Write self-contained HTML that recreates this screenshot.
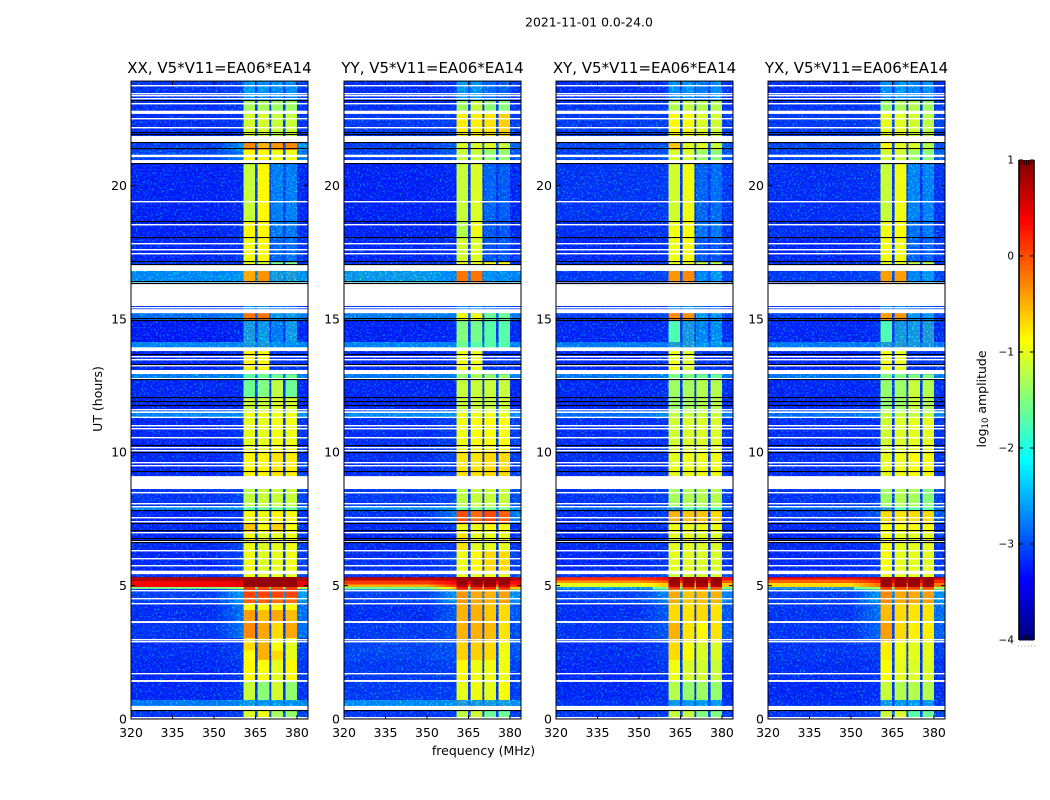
<!DOCTYPE html>
<html>
<head>
<meta charset="utf-8">
<title>2021-11-01 0.0-24.0</title>
<style>
html,body{margin:0;padding:0;background:#fff;width:1050px;height:800px;overflow:hidden}
svg{display:block}
text{font-family:"DejaVu Sans","Liberation Sans",sans-serif;fill:#000}
</style>
</head>
<body>
<svg id="chart" xmlns="http://www.w3.org/2000/svg" width="1050" height="800" viewBox="0 0 1050 800">
<defs id="defs">
<filter id="speckle" x="0" y="0" width="100%" height="100%" color-interpolation-filters="sRGB">
<feTurbulence type="fractalNoise" baseFrequency="0.55" numOctaves="1" seed="7"/>
<feColorMatrix type="matrix" values="0 0 0 0 0  3.8 0 0 0 -1.95  0 3.6 0 0 -0.6  0 0 0 0 0.45"/>
</filter>
</defs>
<text x="589" y="26.5" font-size="12.4" text-anchor="middle">2021-11-01 0.0-24.0</text>
<text x="483.5" y="755" font-size="12.5" text-anchor="middle">frequency (MHz)</text>
<text x="0" y="0" font-size="12.5" text-anchor="middle" transform="translate(102,399) rotate(-90)">UT (hours)</text>
<text x="0" y="0" font-size="12.5" text-anchor="middle" transform="translate(986,399) rotate(-90)">log<tspan font-size="8.5" dy="2">10</tspan><tspan dy="-2"> amplitude</tspan></text>
<g id="panels"></g>
<g id="colorbar"></g>
</svg>
<script>
// Axis data
const xTickLabels = [320, 335, 350, 365, 380];
const yTickLabels = [0, 5, 10, 15, 20];
const colorTickLabels = [1, 0, -1, -2, -3, -4];
const panelTitles = ["XX, V5*V11=EA06*EA14", "YY, V5*V11=EA06*EA14", "XY, V5*V11=EA06*EA14", "YX, V5*V11=EA06*EA14"];
const freqRange = [320, 384];
const hourRange = [0, 23.91];
const colorRange = [-4, 1];
const bandEdges = [[360.6, 364.9], [365.7, 370], [370.7, 375], [375.8, 380]];
const rampStart = 351;

// Hours of flagged (blank) time ranges and thin blank / dark lines
const blankBands = [[22.80,22.68],[21.85,21.62],[21.15,21.06],[20.95,20.84],[17.01,16.80],[16.33,15.48],[15.36,15.21],[13.93,13.79],[13.08,12.93],[11.53,11.47],[11.33,11.28],[9.08,8.62],[5.56,5.43],[3.67,3.60],[1.46,1.39],[0.49,0.30]];
const blankLines = [23.76,23.45,23.36,23.26,23.08,22.52,22.18,19.38,18.55,17.83,17.60,17.46,15.43,13.58,13.48,13.24,12.77,11.61,10.99,10.87,10.56,10.18,10.08,9.62,9.51,8.50,8.06,7.96,7.57,7.42,6.98,6.67,6.33,6.02,5.77,4.81,4.52,4.34,2.99,2.91,1.71,0.04];
const darkLines = [23.20,21.98,21.89,21.59,21.37,20.82,18.64,18.04,17.14,17.02,16.38,16.34,15.02,14.94,13.68,13.28,12.73,12.04,11.89,11.74,10.26,9.99,9.27,7.81,7.33,7.08,6.76,6.70,6.62,0.30];

// Rows: [hour top, hour bottom, log10 amp: low band, near band, band1, band2, band3, band4, channel gap]
const xxRows = [
[23.91,23.20,-3.0,-2.9,-2.1,-2.2,-2.25,-2.2,-2.9],
[23.20,22.68,-3.05,-3.0,-1.3,-1.3,-1.35,-1.35,-2.9],
[22.68,21.59,-3.05,-3.0,-1.1,-1.1,-1.15,-1.15,-2.9],
[21.59,21.33,-2.9,-2.2,-0.3,-0.5,-0.35,-0.3,-2.8],
[21.33,20.84,-2.85,-2.4,-0.85,-0.85,-0.95,-0.95,-2.8],
[20.84,18.63,-3.15,-3.1,-1.15,-0.85,-2.35,-2.35,-2.9],
[18.63,18.03,-3.15,-3.05,-0.85,-0.85,-2.4,-2.4,-2.9],
[18.03,17.13,-3.1,-3.0,-0.95,-0.85,-2.6,-2.5,-2.9],
[17.13,17.02,-3.0,-3.0,-1.0,-1.1,-1.5,-1.5,-2.9],
[16.80,16.38,-2.25,-2.2,-0.45,-0.35,-1.9,-1.85,-2.3],
[15.48,15.22,-3.0,-3.0,-2.1,-2.1,-2.5,-2.5,-3.0],
[15.22,14.96,-2.5,-2.4,-0.2,-0.2,-2.0,-2.0,-2.5],
[14.96,14.13,-3.2,-3.1,-1.9,-2.0,-2.4,-2.0,-3.0],
[14.13,13.94,-2.3,-2.3,-1.9,-1.9,-2.2,-2.2,-2.4],
[13.79,12.93,-3.1,-3.0,-0.8,-0.85,-3.0,-3.0,-3.0],
[12.93,12.74,-2.35,-2.3,-1.7,-1.6,-1.6,-1.6,-2.4],
[12.74,12.03,-3.1,-3.1,-1.6,-1.5,-1.2,-1.6,-3.0],
[12.03,11.54,-3.1,-3.1,-1.15,-1.15,-1.05,-1.1,-3.0],
[11.54,11.30,-2.3,-2.2,-0.95,-0.95,-0.95,-0.95,-2.4],
[11.30,10.08,-3.1,-3.0,-1.0,-1.0,-0.95,-0.95,-3.0],
[10.08,9.11,-3.1,-3.0,-0.85,-0.85,-0.75,-0.8,-3.0],
[8.62,7.98,-3.0,-2.9,-1.2,-1.15,-1.15,-1.15,-2.9],
[7.98,7.80,-2.3,-2.2,-1.7,-1.6,-1.6,-1.6,-2.3],
[7.80,7.33,-3.1,-3.0,-0.9,-0.95,-0.85,-0.9,-3.0],
[7.33,6.97,-3.1,-3.0,-0.6,-0.9,-0.65,-0.9,-3.0],
[6.97,5.56,-3.1,-2.9,-0.95,-1.05,-1.0,-0.95,-3.0],
[5.43,5.32,-3.0,-2.8,-1.0,-1.0,-1.0,-1.0,-2.9],
[5.32,5.17,0.75,0.75,0.9,0.9,0.9,0.9,0.9],
[5.17,4.95,0.4,0.5,0.9,0.9,0.9,0.9,0.8],
[4.95,4.88,-1.5,-1.2,0.1,0.0,0.0,0.1,-1.6],
[4.88,4.58,-2.9,-2.1,0.05,0.05,0.05,0.05,-2.2],
[4.58,4.31,-2.9,-2.2,-0.1,-0.1,-0.15,-0.15,-2.3],
[4.31,4.09,-3.05,-2.5,-0.85,-0.85,-0.85,-0.85,-2.9],
[4.09,3.64,-3.05,-2.5,-0.4,-0.55,-0.45,-0.55,-2.9],
[3.64,3.03,-3.0,-2.5,-0.3,-0.45,-0.7,-0.45,-2.9],
[3.03,2.56,-3.05,-2.9,-0.7,-0.5,-0.9,-1.0,-3.0],
[2.56,2.21,-3.05,-2.9,-0.9,-0.5,-0.7,-1.0,-3.0],
[2.21,1.42,-3.1,-3.0,-0.85,-0.9,-1.0,-0.85,-3.0],
[1.42,0.71,-3.1,-3.0,-1.15,-1.45,-1.1,-1.4,-3.0],
[0.71,0.49,-2.4,-2.3,-2.0,-2.1,-2.1,-2.1,-2.5],
[0.30,0.0,-3.0,-2.9,-1.05,-0.95,-1.3,-1.4,-2.9]
];
const yyRows = [
[23.91,23.20,-3.05,-3.0,-2.1,-2.1,-2.5,-2.6,-2.9],
[23.20,22.68,-3.05,-3.0,-1.35,-1.15,-1.45,-1.45,-2.9],
[22.68,21.59,-2.95,-2.9,-0.8,-0.8,-0.75,-0.65,-2.9],
[21.59,21.33,-2.9,-2.6,-1.05,-1.05,-1.05,-1.15,-2.8],
[21.33,20.84,-2.9,-2.7,-1.15,-1.15,-1.4,-1.4,-2.8],
[20.84,18.63,-3.15,-3.1,-1.15,-1.05,-2.6,-2.65,-3.0],
[18.63,18.03,-3.15,-3.1,-1.25,-0.95,-2.7,-2.7,-3.0],
[18.03,17.13,-3.1,-3.0,-1.1,-1.05,-2.7,-2.7,-3.0],
[17.13,17.02,-3.0,-3.0,-1.0,-1.0,-0.9,-0.9,-2.9],
[16.80,16.38,-2.0,-2.3,-0.2,-0.2,-2.2,-2.25,-2.4],
[15.48,15.22,-3.0,-3.0,-2.2,-2.2,-2.6,-2.6,-3.0],
[15.22,14.96,-2.4,-2.4,-0.95,-0.95,-1.6,-1.6,-2.5],
[14.96,14.13,-3.15,-3.1,-1.5,-1.55,-1.7,-1.7,-3.0],
[14.13,13.94,-2.3,-2.3,-1.6,-1.7,-1.7,-1.7,-2.4],
[13.79,12.93,-3.1,-3.0,-0.95,-0.95,-3.0,-3.0,-3.0],
[12.93,12.74,-2.4,-2.3,-1.4,-1.3,-1.4,-1.4,-2.4],
[12.74,11.54,-3.1,-3.1,-1.15,-1.15,-1.15,-1.15,-3.0],
[11.54,11.30,-2.3,-2.2,-0.95,-0.95,-0.95,-0.95,-2.4],
[11.30,10.08,-3.05,-2.9,-0.95,-0.9,-0.9,-0.9,-3.0],
[10.08,9.11,-3.05,-2.9,-0.75,-0.75,-0.7,-0.7,-3.0],
[8.62,7.98,-2.95,-2.8,-1.2,-1.15,-1.15,-1.15,-2.9],
[7.98,7.80,-2.3,-2.1,-1.6,-1.5,-1.5,-1.5,-2.3],
[7.80,7.33,-3.0,-2.4,0.0,-0.15,0.0,-0.1,-2.6],
[7.33,6.97,-3.1,-3.0,-0.95,-0.95,-0.9,-0.9,-3.0],
[6.97,6.33,-3.1,-3.0,-0.75,-1.0,-1.0,-1.0,-3.0],
[6.33,5.56,-3.05,-2.9,-0.95,-0.85,-0.7,-0.7,-3.0],
[5.43,5.32,-3.0,-2.8,-1.0,-1.0,-1.0,-1.0,-2.9],
[5.32,5.20,0.7,0.75,0.9,0.9,0.9,0.9,0.85],
[5.20,5.05,0.1,0.35,0.9,0.9,0.9,0.9,0.4],
[5.05,4.95,-0.5,0.1,0.75,0.75,0.8,0.7,-0.1],
[4.95,4.85,-1.6,-0.6,0.3,0.2,0.2,0.2,-1.4],
[4.85,4.31,-2.9,-2.2,-0.35,-0.45,-0.5,-0.4,-2.3],
[4.31,3.64,-3.05,-2.7,-0.5,-0.5,-0.6,-0.7,-2.9],
[3.64,2.89,-2.95,-2.8,-0.5,-0.5,-0.55,-0.75,-2.9],
[2.89,2.21,-2.85,-2.75,-0.65,-0.65,-0.7,-0.95,-2.9],
[2.21,1.42,-2.95,-2.9,-0.85,-0.95,-0.95,-0.95,-3.0],
[1.42,0.71,-2.95,-2.9,-1.0,-0.95,-1.0,-0.9,-3.0],
[0.71,0.49,-2.25,-2.2,-1.8,-1.9,-1.9,-1.9,-2.4],
[0.30,0.0,-3.0,-2.9,-1.2,-1.1,-1.6,-1.6,-2.9]
];
const xyRows = [
[23.91,23.20,-3.05,-3.0,-2.2,-2.2,-2.4,-2.2,-2.9],
[23.20,22.68,-3.0,-2.95,-1.25,-1.15,-1.25,-1.25,-2.9],
[22.68,21.59,-2.95,-2.9,-0.85,-0.9,-1.05,-1.1,-2.9],
[21.59,21.33,-2.85,-2.7,-0.6,-1.0,-1.05,-1.15,-2.8],
[21.33,20.84,-2.9,-2.7,-1.05,-1.05,-1.35,-1.45,-2.8],
[20.84,18.63,-3.0,-2.95,-1.1,-0.95,-2.6,-2.5,-3.0],
[18.63,18.03,-3.05,-3.0,-0.95,-0.9,-2.5,-2.4,-3.0],
[18.03,17.13,-3.1,-3.0,-0.95,-0.9,-2.7,-2.7,-3.0],
[17.13,17.02,-3.0,-3.0,-1.0,-1.0,-1.2,-1.2,-2.9],
[16.80,16.38,-2.95,-2.85,-0.35,-0.3,-2.3,-2.05,-2.8],
[15.48,15.22,-3.0,-3.0,-2.2,-2.2,-2.6,-2.6,-3.0],
[15.22,14.96,-2.95,-2.9,-0.3,-0.35,-2.1,-2.1,-2.9],
[14.96,14.13,-3.1,-3.05,-1.75,-1.9,-2.3,-2.2,-3.0],
[14.13,13.94,-2.4,-2.4,-1.8,-1.8,-2.1,-2.1,-2.5],
[13.79,12.93,-3.1,-3.0,-0.95,-1.05,-3.0,-3.0,-3.0],
[12.93,12.74,-2.4,-2.3,-1.5,-1.5,-1.6,-1.6,-2.4],
[12.74,11.54,-3.1,-3.05,-1.35,-1.3,-1.25,-1.25,-3.0],
[11.54,11.30,-2.5,-2.3,-1.15,-1.15,-1.15,-1.15,-2.5],
[11.30,10.08,-3.05,-3.0,-1.1,-1.05,-1.05,-1.05,-3.0],
[10.08,9.11,-3.05,-3.0,-1.0,-0.95,-0.95,-0.95,-3.0],
[8.62,7.98,-3.0,-2.9,-1.3,-1.25,-1.25,-1.25,-2.9],
[7.98,7.80,-2.6,-2.5,-1.8,-1.7,-1.7,-1.7,-2.6],
[7.80,7.33,-3.05,-2.95,-0.5,-0.6,-0.6,-0.7,-3.0],
[7.33,6.97,-3.1,-3.0,-0.95,-0.95,-0.95,-0.95,-3.0],
[6.97,5.56,-3.1,-3.0,-1.0,-1.0,-1.05,-1.05,-3.0],
[5.43,5.32,-3.0,-2.8,-1.1,-1.1,-1.1,-1.1,-2.9],
[5.32,5.20,0.15,0.3,0.9,0.9,0.9,0.9,0.4],
[5.20,5.10,-0.35,-0.1,0.9,0.9,0.9,0.9,0.1],
[5.10,4.95,-1.0,-0.6,0.8,0.8,0.8,0.8,-0.5],
[4.95,4.85,-2.0,-1.5,0.1,0.0,0.1,0.0,-1.7],
[4.85,4.31,-2.9,-2.3,-0.45,-0.6,-0.55,-0.5,-2.3],
[4.31,3.64,-3.05,-2.7,-0.7,-0.75,-0.7,-0.75,-2.9],
[3.64,2.89,-3.0,-2.7,-0.5,-0.75,-0.85,-0.75,-2.9],
[2.89,2.21,-3.05,-2.9,-0.7,-0.9,-1.05,-1.05,-3.0],
[2.21,1.42,-3.1,-3.0,-0.95,-1.05,-1.1,-1.15,-3.0],
[1.42,0.71,-3.1,-3.05,-1.25,-1.4,-1.35,-1.4,-3.0],
[0.71,0.49,-3.0,-3.0,-2.0,-2.1,-2.1,-2.1,-2.9],
[0.30,0.0,-3.0,-2.9,-1.15,-1.15,-1.5,-1.5,-2.9]
];
const yxRows = [
[23.91,23.20,-3.05,-3.0,-2.2,-2.2,-2.3,-2.2,-2.9],
[23.20,22.68,-3.0,-2.95,-1.4,-1.3,-1.25,-1.35,-2.9],
[22.68,21.59,-2.95,-2.9,-1.0,-1.0,-1.1,-1.2,-2.9],
[21.59,21.33,-2.85,-2.7,-0.85,-1.0,-1.05,-1.25,-2.8],
[21.33,20.84,-2.9,-2.7,-1.1,-1.1,-1.35,-1.45,-2.8],
[20.84,18.63,-3.05,-3.0,-1.15,-0.95,-2.3,-2.3,-3.0],
[18.63,18.03,-3.05,-3.0,-0.95,-0.9,-2.5,-2.4,-3.0],
[18.03,17.13,-3.1,-3.0,-0.95,-0.95,-2.6,-2.6,-3.0],
[17.13,17.02,-3.0,-3.0,-1.0,-1.0,-1.2,-1.2,-2.9],
[16.80,16.38,-2.95,-2.85,-0.4,-0.4,-2.3,-2.1,-2.8],
[15.48,15.22,-3.0,-3.0,-2.2,-2.2,-2.6,-2.6,-3.0],
[15.22,14.96,-2.95,-2.9,-0.4,-0.35,-2.1,-2.1,-2.9],
[14.96,14.13,-3.1,-3.05,-1.75,-1.9,-1.95,-1.85,-3.0],
[14.13,13.94,-2.4,-2.4,-1.8,-1.8,-1.9,-1.9,-2.5],
[13.79,12.93,-3.1,-3.0,-0.95,-1.0,-3.0,-3.0,-3.0],
[12.93,12.74,-2.4,-2.3,-1.5,-1.5,-1.5,-1.5,-2.4],
[12.74,11.54,-3.1,-3.05,-1.4,-1.35,-1.15,-1.25,-3.0],
[11.54,11.30,-2.5,-2.3,-1.15,-1.15,-1.15,-1.15,-2.5],
[11.30,10.08,-3.05,-3.0,-1.1,-1.05,-1.0,-1.0,-3.0],
[10.08,9.11,-3.05,-3.0,-1.0,-0.95,-0.9,-0.9,-3.0],
[8.62,7.98,-3.0,-2.9,-1.35,-1.25,-1.3,-1.45,-2.9],
[7.98,7.80,-2.6,-2.5,-1.8,-1.7,-1.7,-1.7,-2.6],
[7.80,7.33,-3.0,-2.7,-0.7,-0.75,-0.7,-0.7,-2.9],
[7.33,6.97,-3.1,-3.0,-0.9,-0.9,-0.9,-0.9,-3.0],
[6.97,5.56,-3.1,-3.0,-0.9,-1.0,-1.0,-1.0,-3.0],
[5.43,5.32,-3.0,-2.8,-1.0,-1.0,-1.0,-1.0,-2.9],
[5.32,5.22,0.45,0.6,0.9,0.9,0.9,0.9,0.7],
[5.22,5.10,-0.1,0.2,0.9,0.9,0.9,0.9,0.4],
[5.10,4.95,-0.7,-0.2,0.85,0.85,0.85,0.85,0.0],
[4.95,4.85,-1.8,-1.3,0.1,0.0,0.1,0.0,-1.5],
[4.85,4.31,-2.9,-2.2,-0.3,-0.45,-0.45,-0.4,-2.3],
[4.31,3.64,-3.0,-2.5,-0.55,-0.7,-0.75,-0.75,-2.9],
[3.64,2.89,-3.0,-2.6,-0.4,-0.7,-0.8,-0.8,-2.9],
[2.89,2.21,-3.0,-2.9,-0.8,-0.95,-1.0,-1.0,-3.0],
[2.21,1.42,-3.05,-3.0,-0.9,-1.0,-1.05,-1.05,-3.0],
[1.42,0.71,-3.1,-3.05,-1.15,-1.25,-1.25,-1.25,-3.0],
[0.71,0.49,-3.05,-3.0,-2.0,-2.1,-2.1,-2.1,-2.9],
[0.30,0.0,-3.0,-2.9,-1.15,-1.05,-1.7,-1.6,-2.9]
];
const panelRows = [xxRows, yyRows, xyRows, yxRows];

// Layout
const panelLefts = [131, 344, 556, 768];
const panelWidth = 177;
const plotBottom = 719;
const pxPerHour = 26.68;
const cbLeft = 1019, cbRight = 1034, cbTop = 160, cbBottom = 640;
const speckleBelow = -1.75;
const NS = "http://www.w3.org/2000/svg";
const defsEl = document.getElementById("defs");

function yScale(h) { return plotBottom - h * pxPerHour; }
function xScale(left, f) { return left + (f - freqRange[0]) / (freqRange[1] - freqRange[0]) * panelWidth; }
function colorScale(v) { return cbBottom - (v - colorRange[0]) / (colorRange[1] - colorRange[0]) * (cbBottom - cbTop); }
function clamp01(v) { return Math.max(0, Math.min(1, v)); }
function jet(v) {
  const t = clamp01((v - colorRange[0]) / (colorRange[1] - colorRange[0]));
  const r = clamp01(1.5 - Math.abs(4 * t - 3));
  const g = clamp01(1.5 - Math.abs(4 * t - 2));
  const b = clamp01(1.5 - Math.abs(4 * t - 1));
  return "rgb(" + Math.round(r * 255) + "," + Math.round(g * 255) + "," + Math.round(b * 255) + ")";
}
function svgEl(parent, tag, props) {
  const el = document.createElementNS(NS, tag);
  for (const k in props) el.setAttribute(k, props[k]);
  parent.appendChild(el);
  return el;
}
function cell(g, clip, left, f0, f1, h0, h1, v) {
  const x0 = xScale(left, f0), x1 = xScale(left, f1), y0 = yScale(h0), y1 = yScale(h1);
  const el = svgEl(g, "rect", { x: x0, y: y0, width: x1 - x0 + 0.3, height: y1 - y0 + 0.3, fill: jet(v), "shape-rendering": "crispEdges" });
  
  
  if (v < speckleBelow) {
    svgEl(clip, "rect", { x: x0, y: y0, width: x1 - x0 + 0.3, height: y1 - y0 + 0.3 });
  }
}
function hLine(g, left, h, color, thick) {
  const el = svgEl(g, "rect", { x: left, y: Math.round(yScale(h) - 0.5), width: panelWidth, height: thick, fill: color });
  
  
}
function tickMark(g, x1, y1, x2, y2) {
  const el = svgEl(g, "line", { x1: x1, y1: y1, x2: x2, y2: y2, stroke: "#000", "stroke-width": 1 });
  
  
}
function label(g, x, y, str, size, anchor) {
  const el = svgEl(g, "text", { x: x, y: y, "font-size": size, "text-anchor": anchor });
  el.textContent = str;
  return el;
}

const panelsRoot = document.getElementById("panels");
panelRows.forEach(function (rows, p) {
  const left = panelLefts[p];
  const right = left + panelWidth;
  const top = yScale(hourRange[1]);
  const g = svgEl(panelsRoot, "g", {});
  
  
  const clip = svgEl(defsEl, "clipPath", { id: "weak-cells-" + p });

  rows.forEach(function (r) {
    const h0 = r[0], h1 = r[1], low = r[2], near = r[3], gap = r[8];
    const rowG = svgEl(g, "g", {});
    cell(rowG, clip, left, freqRange[0], rampStart, h0, h1, low);
    const steps = 5;
    for (let s = 0; s < steps; s++) {
      const f0 = rampStart + (bandEdges[0][0] - rampStart) * s / steps;
      const f1 = rampStart + (bandEdges[0][0] - rampStart) * (s + 1) / steps;
      cell(rowG, clip, left, f0, f1, h0, h1, low + (near - low) * (s + 1) / steps);
    }
    bandEdges.forEach(function (b, i) {
      cell(rowG, clip, left, b[0], b[1], h0, h1, r[4 + i]);
      const nextEdge = i < 3 ? bandEdges[i + 1][0] : freqRange[1];
      cell(rowG, clip, left, b[1], nextEdge, h0, h1, i < 3 ? gap : near);
    });
  });

  // speckle only over the weak-signal cells
  const spkG = svgEl(g, "g", { "clip-path": "url(#weak-cells-" + p + ")" });
  
  
  svgEl(spkG, "rect", { x: left, y: top, width: panelWidth, height: plotBottom - top, filter: "url(#speckle)" });

  blankBands.forEach(function (b) {
    const el = svgEl(g, "rect", { x: left, y: yScale(b[0]), width: panelWidth, height: yScale(b[1]) - yScale(b[0]), fill: "#fff" });
    
    
  });
  blankLines.forEach(function (h) { hLine(g, left, h, "#fff", 1.4); });
  darkLines.forEach(function (h) { hLine(g, left, h, "#000", 1.1); });

  xTickLabels.forEach(function (t) {
    const x = xScale(left, t);
    tickMark(g, x, plotBottom, x, plotBottom - 4);
    tickMark(g, x, top, x, top + 4);
    const tl = label(g, x, plotBottom + 18, String(t), 12.5, "middle");
    
    
  });
  yTickLabels.forEach(function (t) {
    const y = yScale(t);
    tickMark(g, left, y, left + 4, y);
    tickMark(g, right, y, right - 4, y);
    const tl = label(g, left - 4, y + 4.5, String(t), 12.5, "end");
    
    
  });

  const frame = svgEl(g, "rect", { x: left, y: top, width: panelWidth, height: plotBottom - top, fill: "none", stroke: "#000", "stroke-width": 1 });
  
  

  const title = label(g, left + panelWidth / 2, 73, panelTitles[p], 15, "middle");
  
  
});

// Colorbar
const cb = document.getElementById("colorbar");
const cbLevels = 96;
for (let i = 0; i < cbLevels; i++) {
  const v0 = colorRange[0] + (colorRange[1] - colorRange[0]) * i / cbLevels;
  const v1 = colorRange[0] + (colorRange[1] - colorRange[0]) * (i + 1) / cbLevels;
  const seg = svgEl(cb, "rect", { x: cbLeft, y: colorScale(v1), width: cbRight - cbLeft, height: colorScale(v0) - colorScale(v1) + 0.5, fill: jet((v0 + v1) / 2), "shape-rendering": "crispEdges" });
  
  
}
colorTickLabels.forEach(function (t) {
  const y = colorScale(t);
  tickMark(cb, cbLeft, y, cbLeft + 4, y);
  tickMark(cb, cbRight, y, cbRight - 4, y);
  const tl = label(cb, cbLeft - 5, y + 3.5, String(t).replace("-", "\u2212"), 10.5, "end");
  
  
});
for (let i = 1; i < 6; i++) {
  const x = cbLeft + (cbRight - cbLeft) * i / 6;
  tickMark(cb, x, cbTop, x, cbTop + 5);
  tickMark(cb, x, cbBottom, x, cbBottom - 5);
}
const cbLeftEdge = svgEl(cb, "line", { x1: cbLeft, y1: cbTop, x2: cbLeft, y2: cbBottom, stroke: "#000", "stroke-width": 1.6 });


const cbRightEdge = svgEl(cb, "line", { x1: cbRight, y1: cbTop, x2: cbRight, y2: cbBottom, stroke: "#000", "stroke-width": 1.6 });


for (let i = 0; i < 6; i++) {
  const dot = svgEl(cb, "rect", { x: 1018 + i * 3.3, y: 645.5, width: 1, height: 1, fill: "#999" });
  
  
}
</script>
</body>
</html>
